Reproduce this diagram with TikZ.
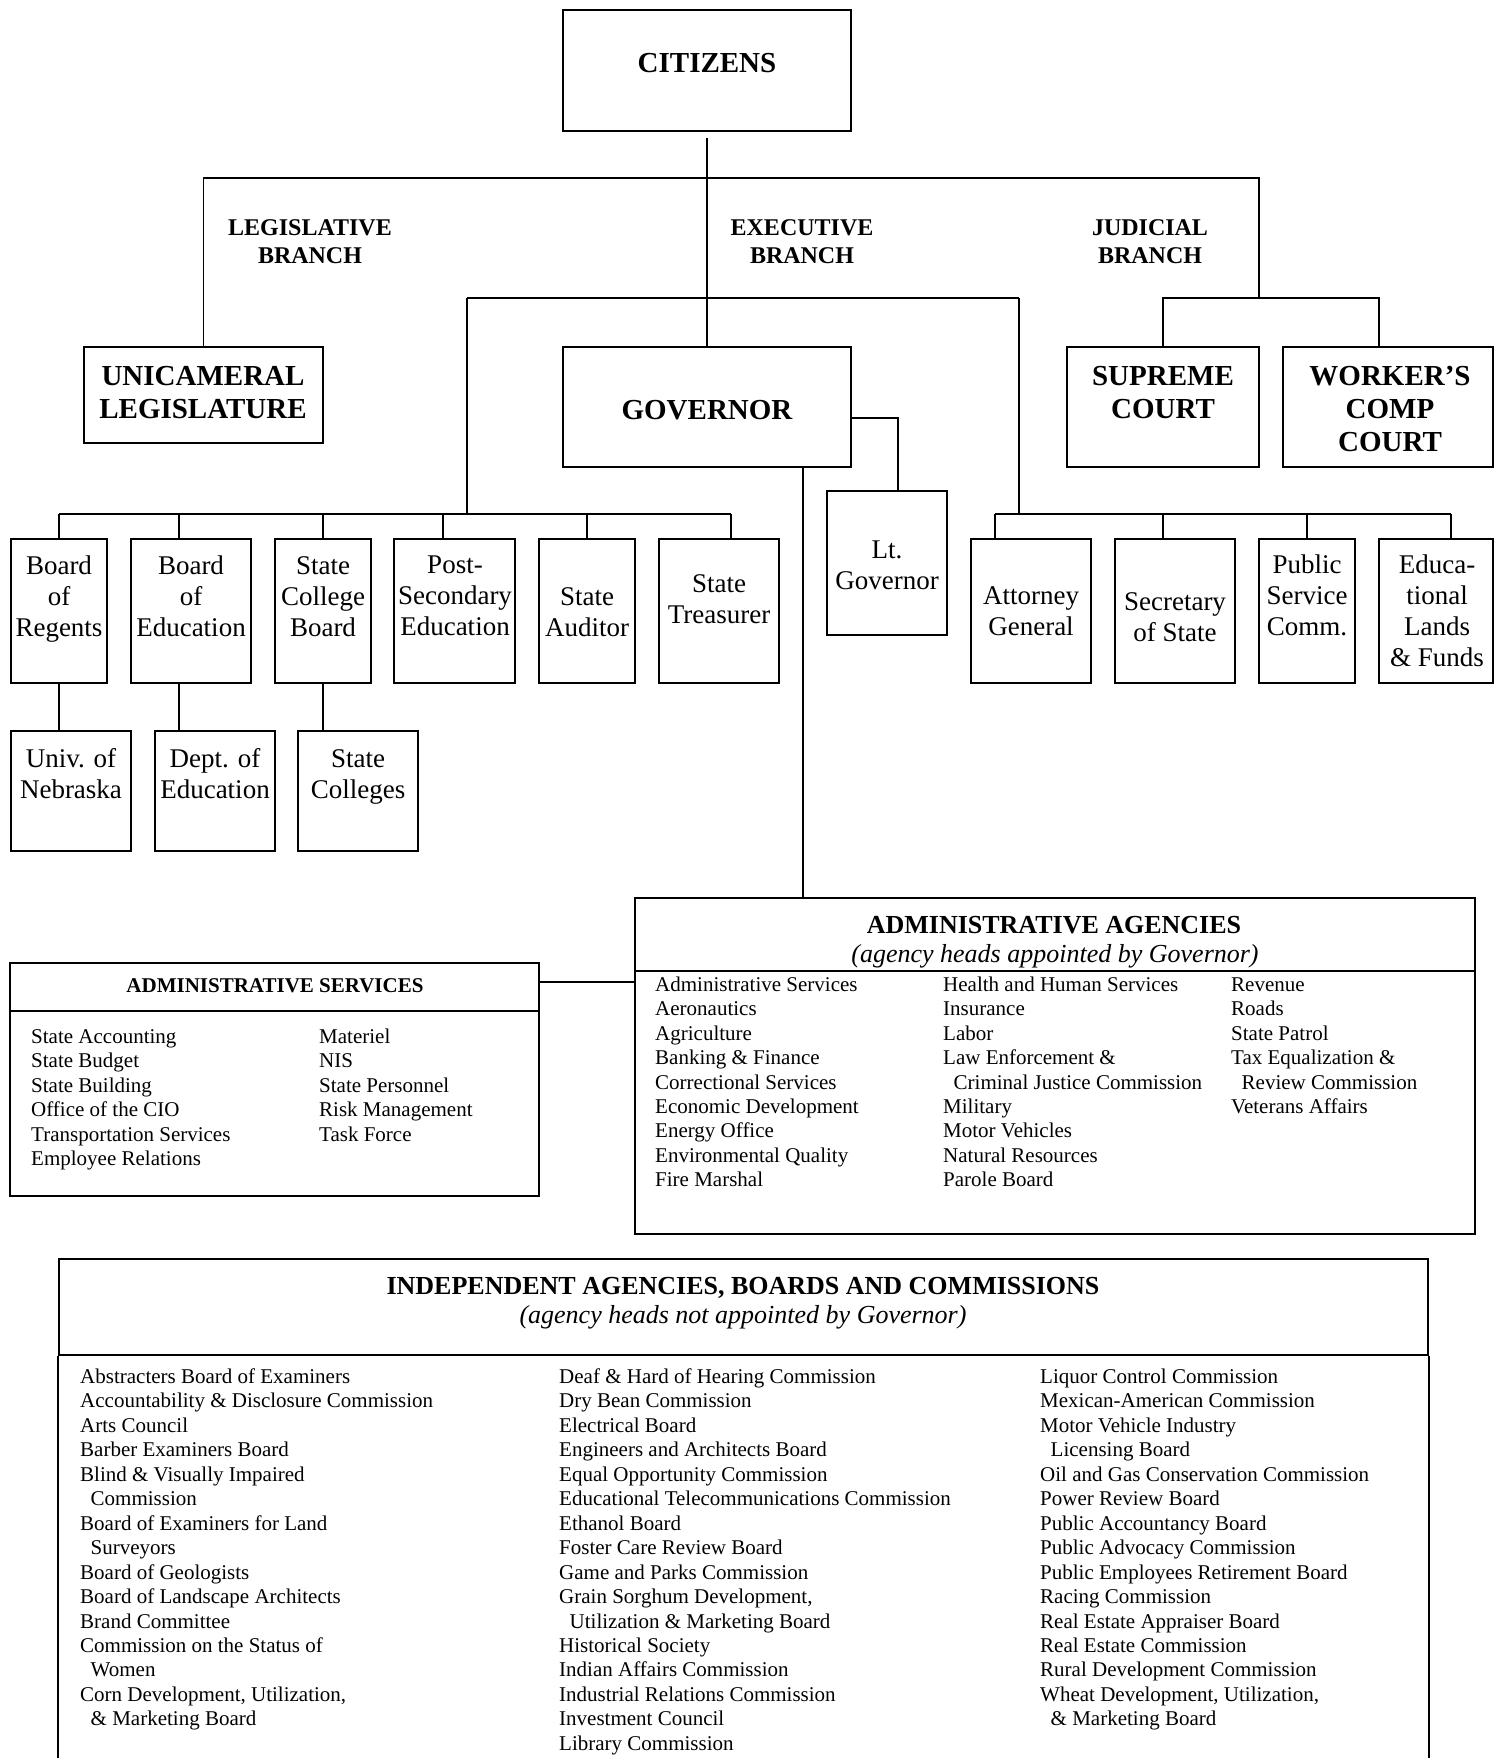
\documentclass[tikz,border=0pt]{standalone}
\usepackage{fontspec}
\setmainfont{Liberation Serif}
\newcommand\mkbox[5]{\node[box, minimum width={(#4)-(#2)}, minimum height={(#5)-(#3)}] (#1) at ({((#2)+(#4))/2},{((#3)+(#5))/2}) {};}
\tikzset{
  box/.style={draw, rectangle, line width=1.9pt, inner sep=0pt},
  boxline/.style={line width=1.9pt},
  conn/.style={line width=1.4pt},
  bigb/.style={font=\fontsize{29}{33}\selectfont\bfseries, align=center, inner sep=0pt},
  reg/.style={font=\fontsize{27}{31}\selectfont, align=center, inner sep=0pt, anchor=north},
  brlab/.style={font=\fontsize{24}{28}\selectfont\bfseries, align=center, inner sep=0pt, anchor=north},
  lst/.style={font=\fontsize{21}{24.45}\selectfont, align=left, inner sep=0pt, anchor=north west},
  ttl/.style={font=\fontsize{26}{30}\selectfont\bfseries, inner sep=0pt, anchor=base},
  sub/.style={font=\fontsize{26}{30}\selectfont\itshape, inner sep=0pt, anchor=base},
}
\begin{document}
\begin{tikzpicture}[x=1pt,y=-1pt]
\useasboundingbox (0,0) rectangle (1494,1758);
\fill[white] (0,0) rectangle (1494,1758);
% boxes
\mkbox{citizens}{563}{10}{851}{131}
\mkbox{uni}{84}{347}{323}{443}
\mkbox{gov}{563}{347}{851}{467}
\mkbox{supreme}{1067}{347}{1259}{467}
\mkbox{worker}{1283}{347}{1493}{467}
\mkbox{regents}{11}{539}{107}{683}
\mkbox{boe}{131}{539}{251}{683}
\mkbox{scb}{275}{539}{371}{683}
\mkbox{pse}{394}{539}{515}{683}
\mkbox{aud}{539}{539}{635}{683}
\mkbox{tre}{659}{539}{779}{683}
\mkbox{ltg}{827}{491}{947}{635}
\mkbox{ag}{971}{539}{1091}{683}
\mkbox{sos}{1115}{539}{1235}{683}
\mkbox{psc}{1259}{539}{1355}{683}
\mkbox{edl}{1379}{539}{1493}{683}
\mkbox{unl}{11}{731}{131}{851}
\mkbox{doe}{155}{731}{275}{851}
\mkbox{sc}{298}{731}{418}{851}
\mkbox{aa}{635}{898}{1475}{971}
\mkbox{aab}{635}{971}{1475}{1234}
\mkbox{ash}{10}{963}{539}{1011}
\mkbox{asb}{10}{1011}{539}{1196}
\mkbox{ind}{59}{1259}{1428}{1355}
\coordinate (bot) at (0,1758);
\draw[boxline] (ind.south west) -- (ind.south west |- bot);
\draw[boxline] (ind.south east) -- (ind.south east |- bot);
% box texts
\node[bigb, anchor=base] (t-citizens) at (707,73) {CITIZENS};
\node[bigb, anchor=north] (t-uni) at (203,361.9) {\strut UNICAMERAL\\LEGISLATURE};
\node[bigb, anchor=base] (t-gov) at (707,419) {GOVERNOR};
\node[bigb, anchor=north] (t-supreme) at (1163,361.9) {\strut SUPREME\\COURT};
\node[bigb, anchor=north] (t-worker) at (1390,361.9) {\strut WORKER’S\\COMP\\COURT};
\node[brlab] (t-leg) at (310,215.4) {\strut LEGISLATIVE\\BRANCH};
\node[brlab] (t-exe) at (802,215.4) {\strut EXECUTIVE\\BRANCH};
\node[brlab] (t-jud) at (1150,215.4) {\strut JUDICIAL\\BRANCH};
\node[reg] (t-regents) at (59,552.3) {\strut Board\\of\\Regents};
\node[reg] (t-boe) at (191,552.3) {\strut Board\\of\\Education};
\node[reg] (t-scb) at (323,552.3) {\strut State\\College\\Board};
\node[reg] (t-pse) at (455,551.3) {\strut Post-\\Secondary\\Education};
\node[reg] (t-aud) at (587,583.3) {\strut State\\Auditor};
\node[reg] (t-tre) at (719,570.3) {\strut State\\Treasurer};
\node[reg] (t-ltg) at (887,536.8) {\strut Lt.\\Governor};
\node[reg] (t-ag) at (1031,582.3) {\strut Attorney\\General};
\node[reg] (t-sos) at (1175,588.3) {\strut Secretary\\of State};
\node[reg] (t-psc) at (1307,551.3) {\strut Public\\Service\\Comm.};
\node[reg] (t-edl) at (1437,551.3) {\strut Educa-\\tional\\Lands\\\& Funds};
\node[reg] (t-unl) at (71,745.3) {\strut Univ. of\\Nebraska};
\node[reg] (t-doe) at (215,745.3) {\strut Dept. of\\Education};
\node[reg] (t-sc) at (358,745.3) {\strut State\\Colleges};
% connectors
\coordinate (jtop) at (707,178);
\coordinate (jjud) at (1259,298);
\coordinate (wcx) at (1379,298);
\coordinate (exl) at (467,298);
\coordinate (exr) at (1019,298);
\coordinate (lbar) at (467,514);
\coordinate (rbar) at (1019,514);
\draw[conn] ([yshift=-6pt]citizens.south) -- (jtop);
\draw[conn] (uni.north) |- (jtop) -| (jjud);
\draw[conn] (jtop) -- (gov.north);
\draw[conn] (supreme.north) |- (jjud) -- (wcx) -- (wcx |- worker.north);
\draw[conn] (exl) -- (exr);
\draw[conn] (exl) -- (lbar);
\draw[conn] (exr) -- (rbar);
\coordinate (d-reg) at (59,514);
\coordinate (d-boe) at (179,514);
\coordinate (d-scb) at (323,514);
\coordinate (d-pse) at (443,514);
\coordinate (d-aud) at (587,514);
\coordinate (d-tre) at (731,514);
\coordinate (d-ag) at (995,514);
\coordinate (d-sos) at (1163,514);
\coordinate (d-psc) at (1307,514);
\coordinate (d-edl) at (1451,514);
\draw[conn] (d-reg) -- (d-tre);
\draw[conn] (d-ag) -- (d-edl);
\foreach \c/\n in {reg/regents, boe/boe, scb/scb, pse/pse, aud/aud, tre/tre, ag/ag, sos/sos, psc/psc, edl/edl}
  \draw[conn] (d-\c) -- (d-\c |- \n.north);
\coordinate (l-unl) at (59,683);
\coordinate (l-doe) at (179,683);
\coordinate (l-sc) at (323,683);
\draw[conn] (l-unl) -- (l-unl |- unl.north);
\draw[conn] (l-doe) -- (l-doe |- doe.north);
\draw[conn] (l-sc) -- (l-sc |- sc.north);
\coordinate (g-lt) at (898,418);
\draw[conn] (g-lt -| gov.east) -- (g-lt) -- (g-lt |- ltg.north);
\coordinate (g-aa) at (803,467);
\draw[conn] (g-aa) -- (g-aa |- aa.north);
\coordinate (s-aa) at (539,982);
\draw[conn] (s-aa) -- (s-aa -| aa.west);
% administrative agencies
\node[ttl] (t-aa) at (1054,933) {ADMINISTRATIVE AGENCIES};
\node[sub] (t-aa2) at (1055,962) {(agency heads appointed by Governor)};
\node[lst] (aa-c1) at (655,973.9) {\strut Administrative Services\\Aeronautics\\Agriculture\\Banking \& Finance\\Correctional Services\\Economic Development\\Energy Office\\Environmental Quality\\Fire Marshal};
\node[lst] (aa-c2) at (943,973.9) {\strut Health and Human Services\\Insurance\\Labor\\Law Enforcement \&\\\hspace*{0.5em}Criminal Justice Commission\\Military\\Motor Vehicles\\Natural Resources\\Parole Board};
\node[lst] (aa-c3) at (1231,973.9) {\strut Revenue\\Roads\\State Patrol\\Tax Equalization \&\\\hspace*{0.5em}Review Commission\\Veterans Affairs};
% administrative services
\node[ttl, font=\fontsize{21}{24}\selectfont\bfseries] (t-as) at (275,992) {ADMINISTRATIVE SERVICES};
\node[lst] (as-c1) at (31,1025.9) {\strut State Accounting\\State Budget\\State Building\\Office of the CIO\\Transportation Services\\Employee Relations};
\node[lst] (as-c2) at (319,1025.9) {\strut Materiel\\NIS\\State Personnel\\Risk Management\\Task Force};
% independent
\node[ttl] (t-ind) at (743,1294) {INDEPENDENT AGENCIES, BOARDS AND COMMISSIONS};
\node[sub] (t-ind2) at (743,1323) {(agency heads not appointed by Governor)};
\node[lst] (ind-c1) at (80,1366.2) {\strut Abstracters Board of Examiners\\Accountability \& Disclosure Commission\\Arts Council\\Barber Examiners Board\\Blind \& Visually Impaired\\\hspace*{0.5em}Commission\\Board of Examiners for Land\\\hspace*{0.5em}Surveyors\\Board of Geologists\\Board of Landscape Architects\\Brand Committee\\Commission on the Status of\\\hspace*{0.5em}Women\\Corn Development, Utilization,\\\hspace*{0.5em}\& Marketing Board};
\node[lst] (ind-c2) at (559,1366.2) {\strut Deaf \& Hard of Hearing Commission\\Dry Bean Commission\\Electrical Board\\Engineers and Architects Board\\Equal Opportunity Commission\\Educational Telecommunications Commission\\Ethanol Board\\Foster Care Review Board\\Game and Parks Commission\\Grain Sorghum Development,\\\hspace*{0.5em}Utilization \& Marketing Board\\Historical Society\\Indian Affairs Commission\\Industrial Relations Commission\\Investment Council\\Library Commission};
\node[lst] (ind-c3) at (1040,1366.2) {\strut Liquor Control Commission\\Mexican-American Commission\\Motor Vehicle Industry\\\hspace*{0.5em}Licensing Board\\Oil and Gas Conservation Commission\\Power Review Board\\Public Accountancy Board\\Public Advocacy Commission\\Public Employees Retirement Board\\Racing Commission\\Real Estate Appraiser Board\\Real Estate Commission\\Rural Development Commission\\Wheat Development, Utilization,\\\hspace*{0.5em}\& Marketing Board};
\end{tikzpicture}
\end{document}
